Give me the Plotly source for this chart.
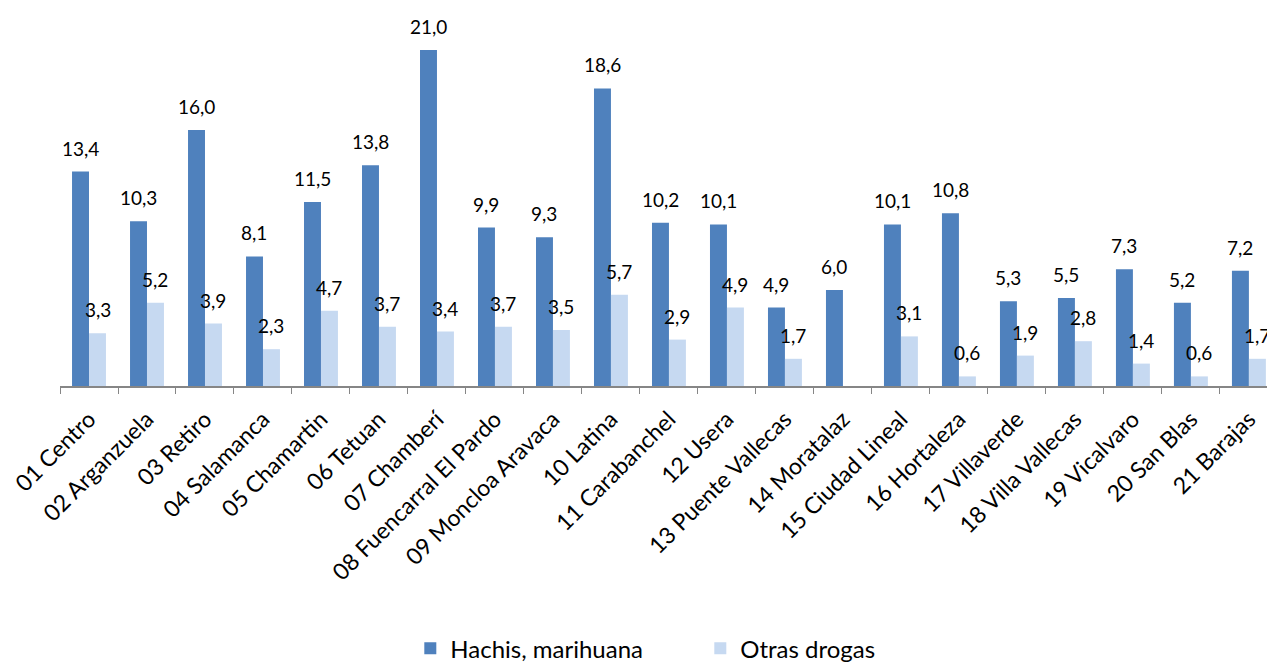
import plotly.graph_objects as go

distritos = ["01 Centro", "02 Arganzuela", "03 Retiro", "04 Salamanca", "05 Chamartin",
             "06 Tetuan", "07 Chamberí", "08 Fuencarral El Pardo", "09 Moncloa Aravaca",
             "10 Latina", "11 Carabanchel", "12 Usera", "13 Puente Vallecas", "14 Moratalaz",
             "15 Ciudad Lineal", "16 Hortaleza", "17 Villaverde", "18 Villa Vallecas",
             "19 Vicalvaro", "20 San Blas", "21 Barajas"]
hachis = [13.4, 10.3, 16.0, 8.1, 11.5, 13.8, 21.0, 9.9, 9.3, 18.6, 10.2, 10.1, 4.9, 6.0,
          10.1, 10.8, 5.3, 5.5, 7.3, 5.2, 7.2]
otras = [3.3, 5.2, 3.9, 2.3, 4.7, 3.7, 3.4, 3.7, 3.5, 5.7, 2.9, 4.9, 1.7, None,
         3.1, 0.6, 1.9, 2.8, 1.4, 0.6, 1.7]

dark = "#4F81BD"
light = "#C6D9F1"
fnt = "Lato"

fig = go.Figure()
fig.add_trace(go.Bar(x=distritos, y=hachis, name="Hachis, marihuana",
                     marker=dict(color=dark, line=dict(width=0))))
fig.add_trace(go.Bar(x=distritos, y=otras, name="Otras drogas",
                     marker=dict(color=light, line=dict(width=0))))

# value labels above bars
def fmt(v):
    return f"{v:.1f}".replace(".", ",")

for vals, shift in [(hachis, -8.5), (otras, 8.5)]:
    for d, v in zip(distritos, vals):
        if v is None:
            continue
        fig.add_annotation(x=d, y=v, text=fmt(v), showarrow=False,
                           xshift=shift, yshift=10, yanchor="bottom",
                           font=dict(size=19, color="#000000", family=fnt))

# page body has an 8px margin, so the figure is a bit smaller than the window
fig.update_layout(
    width=1267, height=663,
    barmode="group", bargap=0.415, bargroupgap=0,
    plot_bgcolor="white", paper_bgcolor="white",
    margin=dict(l=52, r=0, t=26, b=285, autoexpand=False),
    font=dict(family=fnt, color="#000000"),
    xaxis=dict(showline=True, linecolor="#868686", linewidth=1.5,
               ticks="outside", tickson="boundaries", ticklen=6, tickcolor="#868686",
               tickangle=-45, tickfont=dict(size=23, family=fnt), ticklabelstandoff=9,
               range=[-0.5, 20.45], automargin=False),
    yaxis=dict(visible=False, range=[0, 22]),
    legend=dict(orientation="h", x=0.527, xanchor="center", y=-0.81, yanchor="bottom",
                font=dict(size=24, family=fnt), entrywidth=245, itemwidth=30),
)

fig.write_html("out.html")
